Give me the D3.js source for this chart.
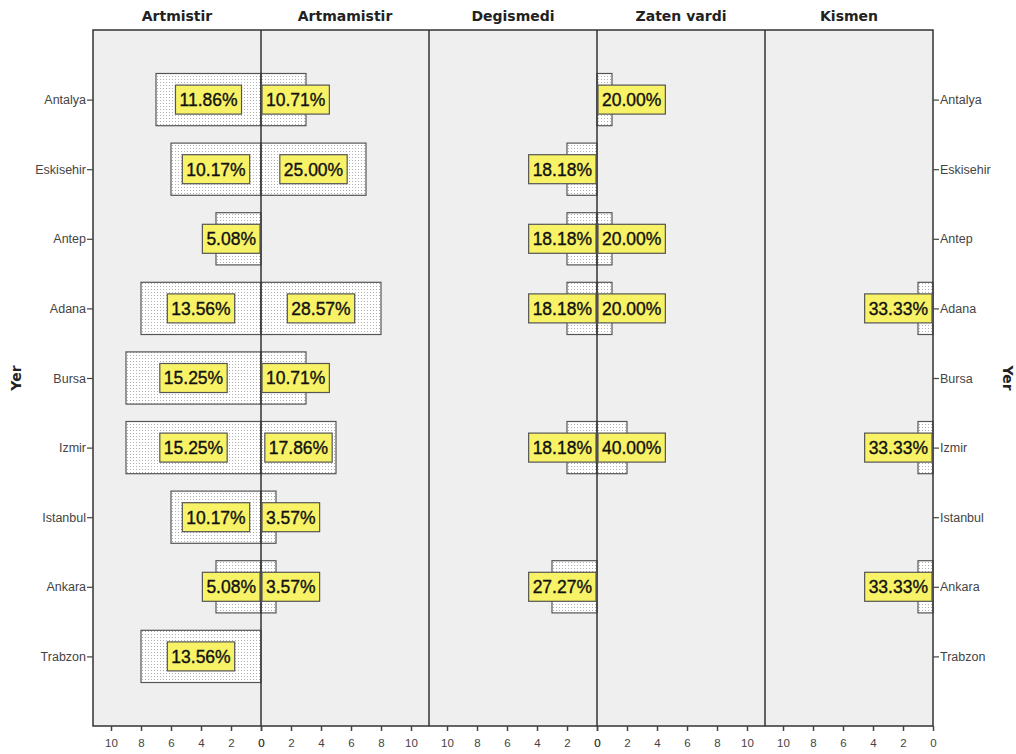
<!DOCTYPE html>
<html>
<head>
<meta charset="utf-8">
<script src="https://cdn.jsdelivr.net/npm/d3@7"></script>
<style>
  body { margin: 0; background: #fff; }
  svg { display: block; }
</style>
</head>
<body>
<svg id="chart" width="1016" height="754"></svg>
<script>
// donnees (nombre de reponses par ville et par groupe)
var cities = ["Antalya", "Eskisehir", "Antep", "Adana", "Bursa", "Izmir", "Istanbul", "Ankara", "Trabzon"];
var groups = ["Artmistir", "Artmamistir", "Degismedi", "Zaten vardi", "Kismen"];
var artmistir   = [7, 6, 3, 8, 9, 9, 6, 3, 8];
var artmamistir = [3, 7, 0, 8, 3, 5, 1, 1, 0];
var degismedi   = [0, 2, 2, 2, 0, 2, 0, 3, 0];
var zatenVardi  = [1, 0, 1, 1, 0, 2, 0, 0, 0];
var kismen      = [0, 0, 0, 1, 0, 1, 0, 1, 0];
var xTicks = [0, 2, 4, 6, 8, 10];

var series = [artmistir, artmamistir, degismedi, zatenVardi, kismen];
// sens des barres dans chaque panneau
var sides = ["left", "right", "left", "right", "left"];

var plotL = 93, plotR = 933, plotT = 30, plotB = 726;
var panelW = (plotR - plotL) / groups.length;
var svg = d3.select("#chart");

// motif pointille des barres
var pat = svg.append("defs").append("pattern")
    .attr("id", "dots")
    .attr("patternUnits", "userSpaceOnUse")
    .attr("width", 3).attr("height", 3);
pat.append("rect").attr("width", 3).attr("height", 3).attr("fill", "#fff");
pat.append("rect").attr("x", 1).attr("y", 1).attr("width", 1).attr("height", 1).attr("fill", "#b0b0b0");

var y = d3.scalePoint().domain(cities).range([plotT, plotB]).padding(1);
var barH = y.step() * 0.75;

// fond
svg.append("rect")
    .attr("x", plotL).attr("y", plotT)
    .attr("width", plotR - plotL).attr("height", plotB - plotT)
    .attr("fill", "#efefef");

var gBars = svg.append("g"), gLines = svg.append("g"), gLabels = svg.append("g");

groups.forEach(function(name, i) {
  var x0 = plotL + i * panelW, x1 = x0 + panelW;
  var side = sides[i];
  var x = d3.scaleLinear().domain([0, 11.2])
      .range(side == "left" ? [x1, x0] : [x0, x1]);
  var zero = x(0);
  var data = series[i];
  var total = d3.sum(data);

  // titre du panneau
  svg.append("text")
      .attr("x", (x0 + x1) / 2).attr("y", 21)
      .attr("text-anchor", "middle")
      .attr("font-family", "DejaVu Sans")
      .attr("font-weight", "bold")
      .attr("font-size", 14)
      .attr("fill", "#222")
      .text(name);

  // axe x
  var axis = d3.axisBottom(x).tickValues(xTicks).tickSize(5).tickSizeOuter(0);
  var ga = svg.append("g")
      .attr("transform", "translate(0," + plotB + ")")
      .call(axis);
  ga.select(".domain").remove();
  ga.selectAll("line").attr("stroke", "#444").attr("stroke-width", 1.5);
  ga.selectAll("text")
      .attr("font-family", "Liberation Sans, Arial")
      .attr("font-size", 11.5)
      .attr("fill", "#444")
      .attr("dy", "1.1em");

  cities.forEach(function(c, j) {
    var v = data[j];
    if (!v) return;
    var xv = x(v);
    var bx = Math.min(zero, xv), bw = Math.abs(xv - zero);
    gBars.append("rect")
        .attr("x", bx).attr("y", y(c) - barH / 2)
        .attr("width", bw).attr("height", barH)
        .attr("fill", "url(#dots)")
        .attr("stroke", "#555")
        .attr("stroke-width", 1.2);

    // etiquette pourcentage
    var lab = gLabels.append("g");
    var t = lab.append("text")
        .attr("font-family", "Liberation Sans, Arial")
        .attr("font-size", 17.5)
        .attr("fill", "#111")
        .attr("stroke", "#111")
        .attr("stroke-width", 0.35)
        .attr("text-anchor", "middle")
        .attr("dy", "0.36em")
        .text((v / total * 100).toFixed(2) + "%");
    var w = t.node().getComputedTextLength() + 8;
    var cx = bx + bw / 2;
    var boxL = cx - w / 2;
    if (side == "right") boxL = Math.max(boxL, zero + 1);
    else boxL = Math.min(boxL + w, zero - 1) - w;
    lab.insert("rect", "text")
        .attr("x", boxL).attr("y", y(c) - 14.5)
        .attr("width", w).attr("height", 29)
        .attr("fill", "#f7f266")
        .attr("stroke", "#555")
        .attr("stroke-width", 1.2);
    t.attr("x", boxL + w / 2).attr("y", y(c));
  });

  if (i > 0) {
    gLines.append("line")
        .attr("x1", x0).attr("x2", x0)
        .attr("y1", plotT).attr("y2", plotB)
        .attr("stroke", "#333").attr("stroke-width", 1.5);
  }
});

// cadre
gLines.append("rect")
    .attr("x", plotL).attr("y", plotT)
    .attr("width", plotR - plotL).attr("height", plotB - plotT)
    .attr("fill", "none")
    .attr("stroke", "#333").attr("stroke-width", 1.5);

// axes y gauche et droite
var yl = svg.append("g").attr("transform", "translate(" + plotL + ",0)")
    .call(d3.axisLeft(y).tickSize(6).tickSizeOuter(0));
var yr = svg.append("g").attr("transform", "translate(" + plotR + ",0)")
    .call(d3.axisRight(y).tickSize(6).tickSizeOuter(0));
[yl, yr].forEach(function(g) {
  g.select(".domain").remove();
  g.selectAll("line").attr("stroke", "#444").attr("stroke-width", 1.2);
  g.selectAll("text")
      .attr("font-family", "Liberation Sans, Arial")
      .attr("font-size", 12.5)
      .attr("fill", "#444");
});
yl.selectAll("text").attr("x", -7);
yr.selectAll("text").attr("x", 7);

// titres des axes y
svg.append("text")
    .attr("transform", "translate(21," + (plotT + plotB) / 2 + ") rotate(-90)")
    .attr("text-anchor", "middle")
    .attr("font-family", "DejaVu Sans").attr("font-weight", "bold")
    .attr("font-size", 14).attr("fill", "#222")
    .text("Yer");
svg.append("text")
    .attr("transform", "translate(1003," + (plotT + plotB) / 2 + ") rotate(90)")
    .attr("text-anchor", "middle")
    .attr("font-family", "DejaVu Sans").attr("font-weight", "bold")
    .attr("font-size", 14).attr("fill", "#222")
    .text("Yer");
</script>
</body>
</html>
